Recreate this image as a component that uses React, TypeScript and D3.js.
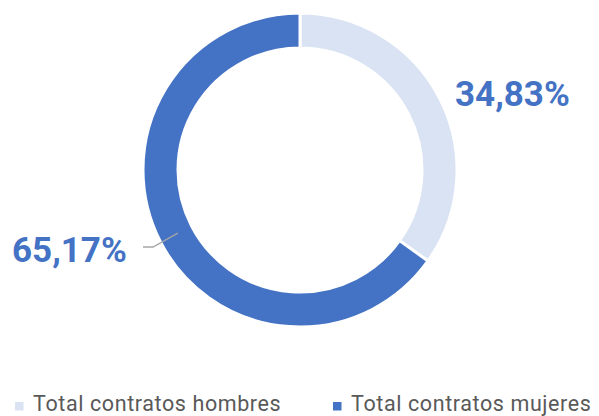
import * as d3 from 'd3'

const categories = ['Total contratos hombres', 'Total contratos mujeres']
const values = [34.83, 65.17]
const labels = ['34,83%', '65,17%']
const colors = ['#DAE3F3', '#4472C4']

const W = 599
const H = 416
const CX = 300
const CY = 170
const R_OUT = 157
const R_IN = 122

type Slice = { name: string; value: number }

export default function App() {
  const data: Slice[] = categories.map((c, i) => ({ name: c, value: values[i] }))
  const pie = d3
    .pie<Slice>()
    .sort(null)
    .value((d) => d.value)
  const arcs = pie(data)
  const arcGen = d3
    .arc<d3.PieArcDatum<Slice>>()
    .innerRadius(R_IN)
    .outerRadius(R_OUT)

  // leader line for the left label starts in the middle of the ring
  const mid = (arcs[1].startAngle + arcs[1].endAngle) / 2
  const rMid = (R_IN + R_OUT) / 2 - 2
  const lx = rMid * Math.sin(mid)
  const ly = -rMid * Math.cos(mid)

  return (
    <svg
      width={W}
      height={H}
      style={{ position: 'absolute', left: 0, top: 0, background: '#fff' }}
      fontFamily="Roboto, 'Liberation Sans', sans-serif"
    >
      <g transform={`translate(${CX},${CY})`}>
        {arcs.map((a, i) => (
          <path
            key={i}
            d={arcGen(a) || ''}
            fill={colors[i]}
            stroke="#fff"
            strokeWidth={3}
          />
        ))}
        <polyline
          points={`${lx},${ly} ${153 - CX},${247 - CY} ${143 - CX},${247 - CY}`}
          fill="none"
          stroke="#A6A6A6"
          strokeWidth={1.3}
        />
      </g>
      <text x={455} y={106} fontSize={35} fontWeight={700} fill="#4472C4">
        {labels[0]}
      </text>
      <text x={12} y={262} fontSize={35} fontWeight={700} fill="#4472C4">
        {labels[1]}
      </text>
      {categories.map((c, i) => {
        const x0 = i === 0 ? 15 : 333
        return (
          <g key={c}>
            <rect x={x0} y={402} width={8.5} height={8.5} fill={colors[i]} />
            <text
              x={x0 + 18}
              y={410.5}
              fontSize={21.5}
              letterSpacing={0.6}
              fill="#595959"
            >
              {c}
            </text>
          </g>
        )
      })}
    </svg>
  )
}
